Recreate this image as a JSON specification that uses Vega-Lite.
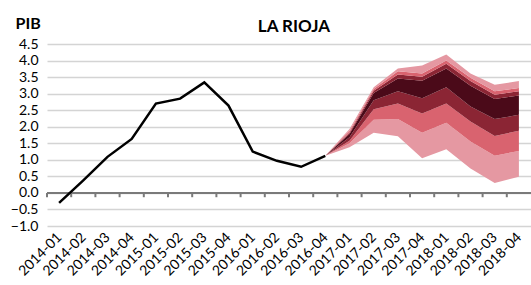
{
  "$schema": "https://vega.github.io/schema/vega-lite/v6.json",
  "width": 484,
  "height": 182,
  "autosize": {"type": "none"},
  "padding": {"left": 47, "top": 44, "right": 0, "bottom": 59},
  "background": "white",
  "config": {
    "view": {"stroke": null},
    "font": "Lato"
  },
  "title": {"text": "LA RIOJA", "fontSize": 17, "fontWeight": "bold", "font": "Lato", "color": "#000", "anchor": "middle", "baseline": "alphabetic", "offset": -12, "dy": 22, "dx": 5},
  "datasets": {
    "ticks": [
      {"q": "2014-01", "t0": 0, "t1": -0.13}, {"q": "2014-02", "t0": 0, "t1": -0.13}, {"q": "2014-03", "t0": 0, "t1": -0.13}, {"q": "2014-04", "t0": 0, "t1": -0.13},
      {"q": "2015-01", "t0": 0, "t1": -0.13}, {"q": "2015-02", "t0": 0, "t1": -0.13}, {"q": "2015-03", "t0": 0, "t1": -0.13}, {"q": "2015-04", "t0": 0, "t1": -0.13},
      {"q": "2016-01", "t0": 0, "t1": -0.13}, {"q": "2016-02", "t0": 0, "t1": -0.13}, {"q": "2016-03", "t0": 0, "t1": -0.13}, {"q": "2016-04", "t0": 0, "t1": -0.13},
      {"q": "2017-01", "t0": 0, "t1": -0.13}, {"q": "2017-02", "t0": 0, "t1": -0.13}, {"q": "2017-03", "t0": 0, "t1": -0.13}, {"q": "2017-04", "t0": 0, "t1": -0.13},
      {"q": "2018-01", "t0": 0, "t1": -0.13}, {"q": "2018-02", "t0": 0, "t1": -0.13}, {"q": "2018-03", "t0": 0, "t1": -0.13}, {"q": "2018-04", "t0": 0, "t1": -0.13}
    ],
    "zero": [{"z": 0}],
    "hist": [
      {"q": "2014-01", "v": -0.30},
      {"q": "2014-02", "v": 0.38},
      {"q": "2014-03", "v": 1.09},
      {"q": "2014-04", "v": 1.63},
      {"q": "2015-01", "v": 2.70},
      {"q": "2015-02", "v": 2.85},
      {"q": "2015-03", "v": 3.34},
      {"q": "2015-04", "v": 2.64},
      {"q": "2016-01", "v": 1.25},
      {"q": "2016-02", "v": 0.97},
      {"q": "2016-03", "v": 0.79},
      {"q": "2016-04", "v": 1.12}
    ],
    "fan": [
      {"q": "2016-04", "b0": 1.12, "b1": 1.12, "b2": 1.12, "b3": 1.12, "b4": 1.12, "b5": 1.12, "b6": 1.12, "b7": 1.12},
      {"q": "2017-01", "b0": 1.38, "b1": 1.50, "b2": 1.58, "b3": 1.68, "b4": 1.78, "b5": 1.82, "b6": 1.87, "b7": 1.93},
      {"q": "2017-02", "b0": 1.82, "b1": 2.21, "b2": 2.53, "b3": 2.80, "b4": 3.02, "b5": 3.09, "b6": 3.14, "b7": 3.19},
      {"q": "2017-03", "b0": 1.71, "b1": 2.23, "b2": 2.70, "b3": 3.07, "b4": 3.46, "b5": 3.58, "b6": 3.68, "b7": 3.76},
      {"q": "2017-04", "b0": 1.05, "b1": 1.82, "b2": 2.40, "b3": 2.86, "b4": 3.39, "b5": 3.51, "b6": 3.61, "b7": 3.85},
      {"q": "2018-01", "b0": 1.32, "b1": 2.12, "b2": 2.70, "b3": 3.19, "b4": 3.76, "b5": 3.90, "b6": 4.00, "b7": 4.18},
      {"q": "2018-02", "b0": 0.74, "b1": 1.55, "b2": 2.16, "b3": 2.61, "b4": 3.24, "b5": 3.38, "b6": 3.48, "b7": 3.61},
      {"q": "2018-03", "b0": 0.30, "b1": 1.12, "b2": 1.72, "b3": 2.23, "b4": 2.84, "b5": 2.97, "b6": 3.07, "b7": 3.27},
      {"q": "2018-04", "b0": 0.49, "b1": 1.27, "b2": 1.88, "b3": 2.36, "b4": 2.94, "b5": 3.07, "b6": 3.17, "b7": 3.38}
    ]
  },
  "layer": [
    {
      "data": {"name": "fan"},
      "mark": {"type": "area", "color": "#e598a2", "opacity": 1},
      "encoding": {
        "x": {"field": "q", "type": "ordinal",
          "scale": {"type": "point", "padding": 0.5, "domain": ["2014-01","2014-02","2014-03","2014-04","2015-01","2015-02","2015-03","2015-04","2016-01","2016-02","2016-03","2016-04","2017-01","2017-02","2017-03","2017-04","2018-01","2018-02","2018-03","2018-04"]},
          "axis": {"orient": "bottom", "title": null, "domain": false, "ticks": false, "tickSize": 0, "grid": false, "labelAngle": -45, "labelAlign": "right", "labelBaseline": "middle", "labelFontSize": 14, "labelFont": "Lato", "labelColor": "#000", "labelPadding": 9, "labelOverlap": false}},
        "y": {"field": "b0", "type": "quantitative",
          "scale": {"domain": [-1, 4.5], "nice": false, "zero": false},
          "axis": {"title": "PIB", "titleAngle": 0, "titleAlign": "left", "titleBaseline": "alphabetic", "titleX": -32, "titleY": -16, "titleFontSize": 16, "titleFontWeight": "bold", "titleFont": "Lato", "titleColor": "#000",
            "values": [-1, -0.5, 0, 0.5, 1, 1.5, 2, 2.5, 3, 3.5, 4, 4.5], "tickCount": 30, "format": ".1f", "labelOverlap": false,
            "labelFontSize": 14, "labelFont": "Lato", "labelColor": "#000", "labelPadding": 9, "domain": false, "ticks": false, "tickSize": 0,
            "grid": true, "gridColor": "#d4d4d4", "gridWidth": 1.5}},
        "y2": {"field": "b1"}
      }
    },
    {
      "data": {"name": "fan"},
      "mark": {"type": "area", "color": "#d9636f", "opacity": 1},
      "encoding": {
        "x": {"field": "q", "type": "ordinal"},
        "y": {"field": "b1", "type": "quantitative"},
        "y2": {"field": "b2"}
      }
    },
    {
      "data": {"name": "fan"},
      "mark": {"type": "area", "color": "#8b2534", "opacity": 1},
      "encoding": {
        "x": {"field": "q", "type": "ordinal"},
        "y": {"field": "b2", "type": "quantitative"},
        "y2": {"field": "b3"}
      }
    },
    {
      "data": {"name": "fan"},
      "mark": {"type": "area", "color": "#4b0a19", "opacity": 1},
      "encoding": {
        "x": {"field": "q", "type": "ordinal"},
        "y": {"field": "b3", "type": "quantitative"},
        "y2": {"field": "b4"}
      }
    },
    {
      "data": {"name": "fan"},
      "mark": {"type": "area", "color": "#8b2534", "opacity": 1},
      "encoding": {
        "x": {"field": "q", "type": "ordinal"},
        "y": {"field": "b4", "type": "quantitative"},
        "y2": {"field": "b5"}
      }
    },
    {
      "data": {"name": "fan"},
      "mark": {"type": "area", "color": "#d9636f", "opacity": 1},
      "encoding": {
        "x": {"field": "q", "type": "ordinal"},
        "y": {"field": "b5", "type": "quantitative"},
        "y2": {"field": "b6"}
      }
    },
    {
      "data": {"name": "fan"},
      "mark": {"type": "area", "color": "#e598a2", "opacity": 1},
      "encoding": {
        "x": {"field": "q", "type": "ordinal"},
        "y": {"field": "b6", "type": "quantitative"},
        "y2": {"field": "b7"}
      }
    },
    {
      "data": {"name": "ticks"},
      "mark": {"type": "rule", "stroke": "#7a7a7a", "strokeWidth": 2, "xOffset": -12.1},
      "encoding": {
        "x": {"field": "q", "type": "ordinal"},
        "y": {"field": "t0", "type": "quantitative"},
        "y2": {"field": "t1"}
      }
    },
    {
      "data": {"name": "zero"},
      "mark": {"type": "rule", "stroke": "#7a7a7a", "strokeWidth": 2},
      "encoding": {
        "y": {"field": "z", "type": "quantitative"}
      }
    },
    {
      "data": {"name": "hist"},
      "mark": {"type": "line", "color": "#000", "strokeWidth": 2.5},
      "encoding": {
        "x": {"field": "q", "type": "ordinal"},
        "y": {"field": "v", "type": "quantitative"}
      }
    }
  ]
}
